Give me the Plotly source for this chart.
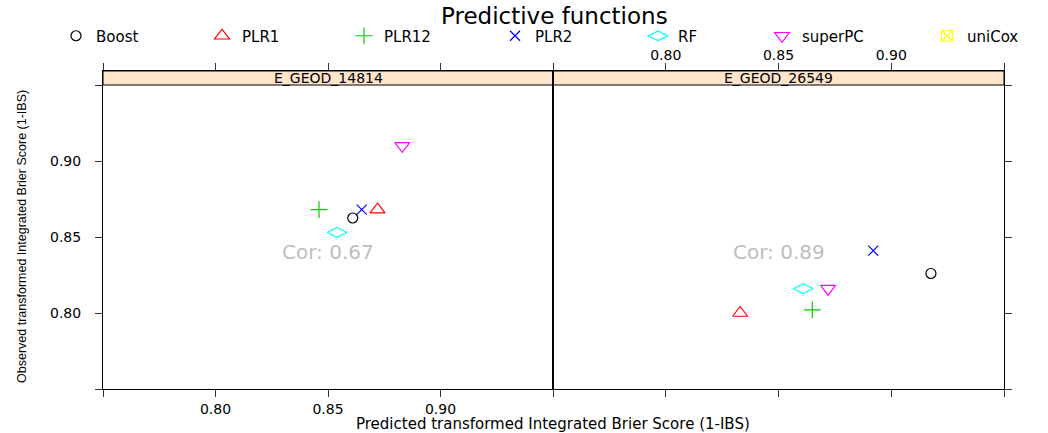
import plotly.graph_objects as go

# ---------------- data ----------------
methods = ["Boost", "PLR1", "PLR12", "PLR2", "RF", "superPC", "uniCox"]
datasets = ["E_GEOD_14814", "E_GEOD_26549"]
pred_14814 = [0.861, 0.872, 0.846, 0.865, 0.854, 0.883, None]
obs_14814 = [0.8625, 0.868, 0.868, 0.868, 0.853, 0.910, None]
pred_26549 = [0.9176, 0.833, 0.865, 0.892, 0.861, 0.872, None]
obs_26549 = [0.826, 0.800, 0.802, 0.841, 0.816, 0.816, None]
correlations = [0.67, 0.89]
tick_vals = [0.75, 0.80, 0.85, 0.90, 0.95]
tick_text = ["", "0.80", "0.85", "0.90", ""]

# ---------------- style ----------------
W, H = 1048, 433
symbols = ["circle-open", "triangle-up-open", "cross-thin-open", "x-thin-open",
           "diamond-wide-open", "triangle-down-open", "square-x-open"]
colors = ["#000000", "#FF0000", "#00CD00", "#0000FF", "#00FFFF", "#FF00FF", "#FFFF00"]
sizes = [10, 13, 12, 10, 14, 13, 11]
legend_x_px = [56, 202, 344, 495, 638, 762, 927]
FONT = "DejaVu Sans"

def fx(p):
    return p / W

def fy(p):
    return 1 - p / H

panel_x = [[fx(103), fx(553)], [fx(553), fx(1004)]]
panel_top, panel_bot, strip_h = 71, 389, 14
area_h = panel_bot - panel_top
y_range = [0.75, 0.95 + (0.95 - 0.75) * strip_h / (area_h - strip_h)]
x_range = [0.75, 0.95]

series = [(pred_14814, obs_14814), (pred_26549, obs_26549)]

fig = go.Figure()
for p, (xs, ys) in enumerate(series):
    xa = "x" if p == 0 else "x2"
    ya = "y" if p == 0 else "y2"
    for i, m in enumerate(methods):
        fig.add_trace(go.Scatter(
            x=[xs[i]], y=[ys[i]], mode="markers", name=m, legendgroup=m,
            legend="legend" if i == 0 else f"legend{i + 1}",
            showlegend=(p == 0), xaxis=xa, yaxis=ya,
            marker=dict(symbol=symbols[i], color=colors[i], size=sizes[i],
                        line=dict(color=colors[i], width=1.2)),
        ))

common = dict(tickvals=tick_vals, ticktext=tick_text, showgrid=False, zeroline=False,
              ticks="outside", ticklen=7, tickcolor="#333", tickwidth=1,
              showline=True, linecolor="black", linewidth=1,
              tickfont=dict(family=FONT, size=14, color="black"))

layout = dict(
    width=W, height=H, margin=dict(l=0, r=0, t=0, b=0),
    paper_bgcolor="white", plot_bgcolor="white", showlegend=True,
    xaxis=dict(domain=panel_x[0], anchor="y", range=x_range, side="bottom",
               mirror="ticks", **common),
    xaxis2=dict(domain=panel_x[1], anchor="y2", range=x_range, side="top",
                mirror="ticks", ticklabelstandoff=-3, **common),
    yaxis=dict(domain=[fy(panel_bot), fy(panel_top)], anchor="x", range=y_range,
               mirror=True, ticklabelstandoff=11, **common),
    yaxis2=dict(domain=[fy(panel_bot), fy(panel_top)], anchor="x2", range=y_range,
                side="right", mirror=True, showticklabels=False, **common),
)
for i, lx in enumerate(legend_x_px):
    key = "legend" if i == 0 else f"legend{i + 1}"
    layout[key] = dict(orientation="h", x=fx(lx), xanchor="left", y=fy(36),
                       yanchor="middle", font=dict(family=FONT, size=15, color="black"),
                       bgcolor="rgba(0,0,0,0)", borderwidth=0)
fig.update_layout(**layout)

shapes = []
annotations = []
for p in range(2):
    xd = "x domain" if p == 0 else "x2 domain"
    yd = "y domain" if p == 0 else "y2 domain"
    xr = "x" if p == 0 else "x2"
    yr = "y" if p == 0 else "y2"
    s0 = 1 - strip_h / area_h
    shapes.append(dict(type="rect", xref=xd, yref=yd, x0=0, x1=1, y0=s0, y1=1,
                       fillcolor="#FFE5CC", line=dict(color="black", width=1), layer="below"))
    annotations.append(dict(xref=xd, yref=yd, x=0.5, y=(s0 + 1) / 2, text=datasets[p],
                            showarrow=False, font=dict(family=FONT, size=14, color="black"),
                            xanchor="center", yanchor="middle"))
    annotations.append(dict(xref=xr, yref=yr, x=0.85, y=0.84,
                            text=f"Cor: {correlations[p]:.2f}", showarrow=False,
                            font=dict(family=FONT, size=20, color="#BEBEBE"),
                            xanchor="center", yanchor="middle"))

annotations.append(dict(xref="paper", yref="paper", x=fx(554), y=fy(16),
                        text="Predictive functions", showarrow=False,
                        font=dict(family=FONT, size=23, color="black"),
                        xanchor="center", yanchor="middle"))
annotations.append(dict(xref="paper", yref="paper", x=fx(22), y=fy(237),
                        text="Observed transformed Integrated Brier Score (1-IBS)",
                        textangle=-90, showarrow=False,
                        font=dict(family="Liberation Sans Narrow, Liberation Sans, sans-serif",
                                  size=12.5, color="black"),
                        xanchor="center", yanchor="middle"))
annotations.append(dict(xref="paper", yref="paper", x=fx(553), y=fy(424),
                        text="Predicted transformed Integrated Brier Score (1-IBS)",
                        showarrow=False, font=dict(family=FONT, size=15, color="black"),
                        xanchor="center", yanchor="middle"))

fig.update_layout(shapes=shapes, annotations=annotations)
fig.write_html("out.html")
